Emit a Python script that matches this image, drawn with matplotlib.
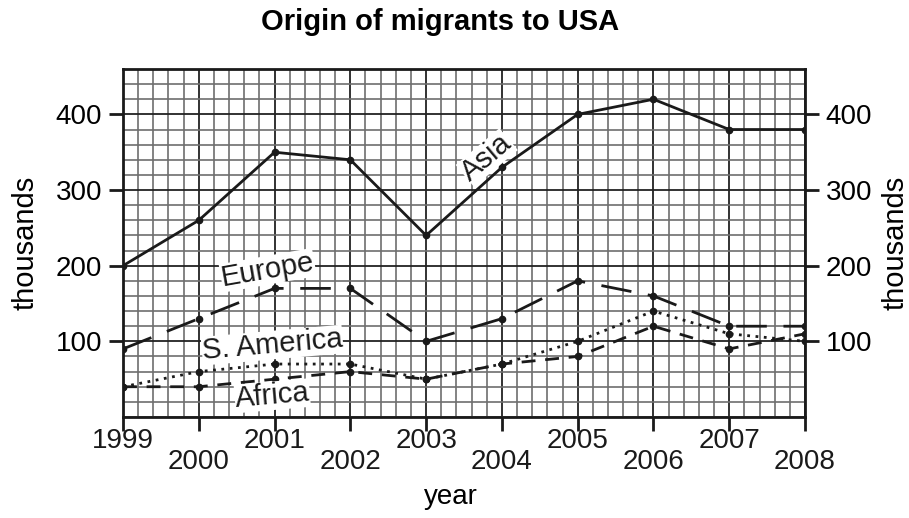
import matplotlib
matplotlib.use("Agg")
import matplotlib.pyplot as plt
from matplotlib.ticker import MultipleLocator

years = [1999, 2000, 2001, 2002, 2003, 2004, 2005, 2006, 2007, 2008]
asia = [200, 260, 350, 340, 240, 330, 400, 420, 380, 380]
europe = [90, 130, 170, 170, 100, 130, 180, 160, 120, 120]
s_america = [40, 60, 70, 70, 50, 70, 100, 140, 110, 100]
africa = [40, 40, 50, 60, 50, 70, 80, 120, 90, 110]
yticks = [100, 200, 300, 400]

plt.rcParams['font.family'] = ['Liberation Sans', 'DejaVu Sans']
FS = 20

fig = plt.figure(figsize=(9.09, 5.18), dpi=100)
ax = fig.add_axes([123/909, 1-417/518, (805-123)/909, (417-69)/518])

ax.set_xlim(1999, 2008)
ax.set_ylim(0, 460)
ax.xaxis.set_minor_locator(MultipleLocator(0.2))
ax.yaxis.set_minor_locator(MultipleLocator(20))
ax.set_xticks(years)
ax.set_yticks(yticks)
ax.grid(which='minor', color='#6e6e6e', lw=1.2)
ax.grid(which='major', color='#222222', lw=1.3)
ax.set_axisbelow(True)

k = dict(color='#1a1a1a', marker='o', ms=4.5, lw=2)
ax.plot(years, asia, ls='-', **k)
ax.plot(years, europe, ls=(0, (11, 6)), **k)
ax.plot(years, s_america, ls=(0, (1, 2)), **k)
ax.plot(years, africa, ls=(0, (5, 3.5)), **k)

lbl = dict(fontsize=21, color='#1a1a1a', ha='center', va='center',
           bbox=dict(facecolor='white', edgecolor='none', pad=0.3))
ax.text(2003.8, 343, 'Asia', rotation=40, **lbl)
ax.text(2000.91, 194, 'Europe', rotation=10, **lbl)
ax.text(2000.97, 95, 'S. America', rotation=5, **lbl)
ax.text(2000.97, 28, 'Africa', rotation=5, **lbl)

for s in ax.spines.values():
    s.set_linewidth(2)
    s.set_color('#1a1a1a')
ax.tick_params(which='major', direction='out', length=10, width=2,
               labelsize=FS, color='#1a1a1a', right=True, labelright=True,
               pad=5)
ax.tick_params(which='minor', length=0)
ax.set_xticklabels(['' for _ in years])
for i, y in enumerate(years):
    off = -0.069 if i % 2 == 0 else -0.129
    ax.text(y, off, str(y), transform=ax.get_xaxis_transform(), fontsize=FS,
            ha='center', va='center', color='#1a1a1a')

fig.text(25/909, 1-243/518, 'thousands', rotation=90, fontsize=21,
         ha='center', va='center')
fig.text(896/909, 1-243/518, 'thousands', rotation=90, fontsize=21,
         ha='center', va='center')
fig.text(451/909, 1-497/518, 'year', fontsize=FS, ha='center', va='center')
fig.text(440/909, 1-22/518, 'Origin of migrants to USA', fontsize=21,
         fontweight='bold', ha='center', va='center')

fig.savefig('out.png', dpi=100)
